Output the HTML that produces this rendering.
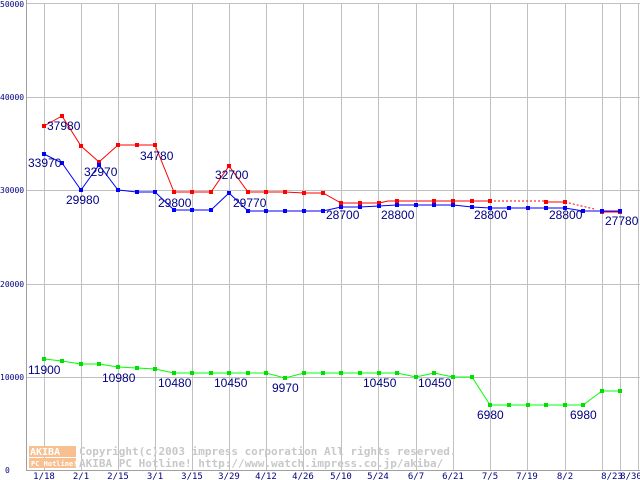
<!DOCTYPE html>
<html><head><meta charset="utf-8"><style>
body{margin:0;background:#fff;width:640px;height:480px;overflow:hidden}
svg{display:block}
.l{font-family:"Liberation Sans",sans-serif;font-size:12px;fill:#000080}
.ax{font-family:"DejaVu Sans Mono",monospace;font-size:8px;fill:#000080}
.x{font-family:"DejaVu Sans Mono",monospace;font-size:9px;fill:#000080}
.c{font-family:"DejaVu Sans Mono",monospace;font-size:11px;fill:#c8c8c8;font-weight:bold}
</style></head><body>
<svg width="640" height="480" xmlns="http://www.w3.org/2000/svg">
<g stroke="#c0c0c0" stroke-width="1">
<line x1="26" y1="3.5" x2="640" y2="3.5"/><line x1="26" y1="97.5" x2="640" y2="97.5"/><line x1="26" y1="190.5" x2="640" y2="190.5"/><line x1="26" y1="284.5" x2="640" y2="284.5"/><line x1="26" y1="377.5" x2="640" y2="377.5"/>
<line x1="44.5" y1="3" x2="44.5" y2="470"/><line x1="81.5" y1="3" x2="81.5" y2="470"/><line x1="118.5" y1="3" x2="118.5" y2="470"/><line x1="155.5" y1="3" x2="155.5" y2="470"/><line x1="192.5" y1="3" x2="192.5" y2="470"/><line x1="229.5" y1="3" x2="229.5" y2="470"/><line x1="266.5" y1="3" x2="266.5" y2="470"/><line x1="303.5" y1="3" x2="303.5" y2="470"/><line x1="341.5" y1="3" x2="341.5" y2="470"/><line x1="378.5" y1="3" x2="378.5" y2="470"/><line x1="416.5" y1="3" x2="416.5" y2="470"/><line x1="453.5" y1="3" x2="453.5" y2="470"/><line x1="490.5" y1="3" x2="490.5" y2="470"/><line x1="527.5" y1="3" x2="527.5" y2="470"/><line x1="565.5" y1="3" x2="565.5" y2="470"/><line x1="602.5" y1="3" x2="602.5" y2="470"/><line x1="620.5" y1="3" x2="620.5" y2="470"/><line x1="638.5" y1="3" x2="638.5" y2="470"/>
<line x1="26.5" y1="0" x2="26.5" y2="471" stroke="#a0a0a0"/><line x1="26" y1="470.5" x2="640" y2="470.5" stroke="#a0a0a0"/>
</g>
<g class="ax"><text x="0" y="7">50000</text><text x="0" y="100">40000</text><text x="0" y="193">30000</text><text x="0" y="287">20000</text><text x="0" y="380">10000</text><text x="5" y="473">0</text></g>
<g class="c">
<rect x="29" y="446" width="47" height="11" fill="#f8c090"/><rect x="29" y="458" width="47" height="10" fill="#f8c090"/>
<text x="30" y="455" fill="#fff" style="fill:#fff;font-size:10px">AKIBA</text><text x="31" y="466" style="fill:#fff;font-size:7px">PC Hotline!</text>
<text x="79" y="455">Copyright(c)2003 impress corporation All rights reserved.</text>
<text x="79" y="467">AKIBA PC Hotline!  http://www.watch.impress.co.jp/akiba/</text>
</g>
<g class="x" text-anchor="middle"><text x="44" y="479">1/18</text><text x="81" y="479">2/1</text><text x="118" y="479">2/15</text><text x="155" y="479">3/1</text><text x="192" y="479">3/15</text><text x="229" y="479">3/29</text><text x="266" y="479">4/12</text><text x="303" y="479">4/26</text><text x="341" y="479">5/10</text><text x="378" y="479">5/24</text><text x="416" y="479">6/7</text><text x="453" y="479">6/21</text><text x="490" y="479">7/5</text><text x="527" y="479">7/19</text><text x="565" y="479">8/2</text><text x="612" y="479">8/23</text><text x="631" y="479">8/30</text></g>
<g fill="none" stroke-width="1">
<polyline stroke="#ff0000" points="44,126 62,116 81,146 99,162 118,145 137,145 155,145 174,192 192,192 211,192 229,166 248,192 266,192 285,192 304,193 323,193 341,203 360,203 379,203 388,201 397,201 416,201 434,201 453,201 472,201 490,201"/>
<polyline stroke="#ff0000" stroke-dasharray="2,2" points="490,201 546,201"/>
<polyline stroke="#ff0000" points="546,202 565,202"/>
<polyline stroke="#ff0000" stroke-dasharray="2,2" points="565,202 594,209"/>
<polyline stroke="#ff0000" points="602,212 620,212"/>
<polyline stroke="#0000ff" points="44,154 62,163 81,190 99,165 118,190 137,192 155,192 174,210 192,210 211,210 229,193 248,211 266,211 285,211 304,211 323,211 341,207 360,207 379,206 397,205 416,205 434,205 453,205 472,207 490,208 509,208 528,208 546,208 565,208 583,211 602,211 620,211"/>
<polyline stroke="#00ff00" points="44,359 62,361 81,364 99,364 118,367 137,368 155,369 174,373 192,373 211,373 229,373 248,373 266,373 285,378 304,373 323,373 341,373 360,373 379,373 397,373 416,377 434,373 453,377 472,377 490,405 509,405 528,405 546,405 565,405 583,405 602,391 620,391"/>
</g>
<g fill="#ff0000"><rect x="42" y="124" width="4" height="4"/><rect x="60" y="114" width="4" height="4"/><rect x="79" y="144" width="4" height="4"/><rect x="97" y="160" width="4" height="4"/><rect x="116" y="143" width="4" height="4"/><rect x="135" y="143" width="4" height="4"/><rect x="153" y="143" width="4" height="4"/><rect x="172" y="190" width="4" height="4"/><rect x="190" y="190" width="4" height="4"/><rect x="209" y="190" width="4" height="4"/><rect x="227" y="164" width="4" height="4"/><rect x="246" y="190" width="4" height="4"/><rect x="264" y="190" width="4" height="4"/><rect x="283" y="190" width="4" height="4"/><rect x="302" y="191" width="4" height="4"/><rect x="321" y="191" width="4" height="4"/><rect x="339" y="201" width="4" height="4"/><rect x="358" y="201" width="4" height="4"/><rect x="377" y="201" width="4" height="4"/><rect x="395" y="199" width="4" height="4"/><rect x="432" y="199" width="4" height="4"/><rect x="451" y="199" width="4" height="4"/><rect x="470" y="199" width="4" height="4"/><rect x="488" y="199" width="4" height="4"/><rect x="544" y="200" width="4" height="4"/><rect x="563" y="200" width="4" height="4"/><rect x="600" y="210" width="4" height="4"/><rect x="618" y="210" width="4" height="4"/></g>
<g fill="#0000ff"><rect x="42" y="152" width="4" height="4"/><rect x="60" y="161" width="4" height="4"/><rect x="79" y="188" width="4" height="4"/><rect x="97" y="163" width="4" height="4"/><rect x="116" y="188" width="4" height="4"/><rect x="135" y="190" width="4" height="4"/><rect x="153" y="190" width="4" height="4"/><rect x="172" y="208" width="4" height="4"/><rect x="190" y="208" width="4" height="4"/><rect x="209" y="208" width="4" height="4"/><rect x="227" y="191" width="4" height="4"/><rect x="246" y="209" width="4" height="4"/><rect x="264" y="209" width="4" height="4"/><rect x="283" y="209" width="4" height="4"/><rect x="302" y="209" width="4" height="4"/><rect x="321" y="209" width="4" height="4"/><rect x="339" y="205" width="4" height="4"/><rect x="358" y="205" width="4" height="4"/><rect x="377" y="204" width="4" height="4"/><rect x="395" y="203" width="4" height="4"/><rect x="414" y="203" width="4" height="4"/><rect x="432" y="203" width="4" height="4"/><rect x="451" y="203" width="4" height="4"/><rect x="470" y="205" width="4" height="4"/><rect x="488" y="206" width="4" height="4"/><rect x="507" y="206" width="4" height="4"/><rect x="526" y="206" width="4" height="4"/><rect x="544" y="206" width="4" height="4"/><rect x="563" y="206" width="4" height="4"/><rect x="581" y="209" width="4" height="4"/><rect x="600" y="209" width="4" height="4"/><rect x="618" y="209" width="4" height="4"/></g>
<g fill="#00e000"><rect x="42" y="357" width="4" height="4"/><rect x="60" y="359" width="4" height="4"/><rect x="79" y="362" width="4" height="4"/><rect x="97" y="362" width="4" height="4"/><rect x="116" y="365" width="4" height="4"/><rect x="135" y="366" width="4" height="4"/><rect x="153" y="367" width="4" height="4"/><rect x="172" y="371" width="4" height="4"/><rect x="190" y="371" width="4" height="4"/><rect x="209" y="371" width="4" height="4"/><rect x="227" y="371" width="4" height="4"/><rect x="246" y="371" width="4" height="4"/><rect x="264" y="371" width="4" height="4"/><rect x="283" y="376" width="4" height="4"/><rect x="302" y="371" width="4" height="4"/><rect x="321" y="371" width="4" height="4"/><rect x="339" y="371" width="4" height="4"/><rect x="358" y="371" width="4" height="4"/><rect x="377" y="371" width="4" height="4"/><rect x="395" y="371" width="4" height="4"/><rect x="414" y="375" width="4" height="4"/><rect x="432" y="371" width="4" height="4"/><rect x="451" y="375" width="4" height="4"/><rect x="470" y="375" width="4" height="4"/><rect x="488" y="403" width="4" height="4"/><rect x="507" y="403" width="4" height="4"/><rect x="526" y="403" width="4" height="4"/><rect x="544" y="403" width="4" height="4"/><rect x="563" y="403" width="4" height="4"/><rect x="581" y="403" width="4" height="4"/><rect x="600" y="389" width="4" height="4"/><rect x="618" y="389" width="4" height="4"/></g>
<g class="l">
<text x="47" y="130">37980</text><text x="28" y="167">33970</text><text x="66" y="204">29980</text><text x="84" y="176">32970</text><text x="140" y="160">34780</text><text x="158" y="207">29800</text><text x="215" y="179">32700</text><text x="233" y="207">29770</text><text x="326" y="219">28700</text><text x="381" y="219">28800</text><text x="474" y="219">28800</text><text x="549" y="219">28800</text><text x="605" y="225">27780</text>
<text x="28" y="374">11900</text><text x="102" y="382">10980</text><text x="158" y="387">10480</text><text x="214" y="387">10450</text><text x="272" y="392">9970</text><text x="363" y="387">10450</text><text x="418" y="387">10450</text><text x="477" y="419">6980</text><text x="570" y="419">6980</text>
</g>
</svg>
</body></html>
